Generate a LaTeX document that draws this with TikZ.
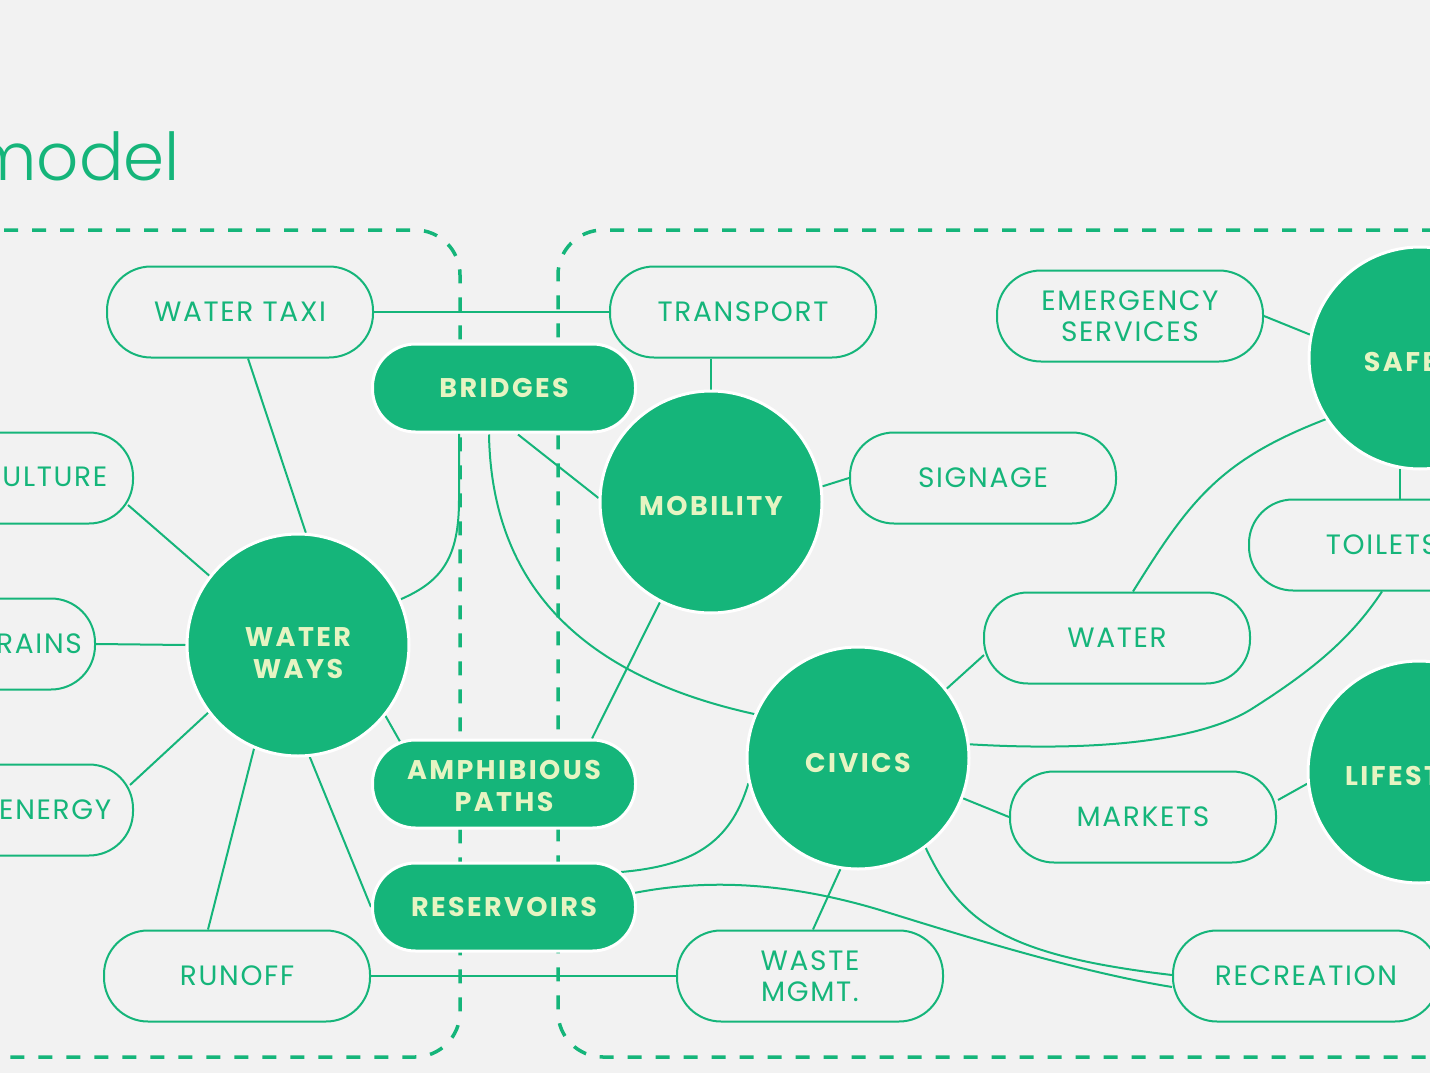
\documentclass[tikz,border=0pt]{standalone}
\usepackage{fontspec}
\setmainfont{Poppins}[LetterSpace=6]
\newfontfamily\hubfont{Poppins}[LetterSpace=9]
\newfontfamily\titlefont{Poppins Light}
\usetikzlibrary{calc}
\pgfdeclarelayer{backdrop}
\pgfdeclarelayer{links}
\pgfsetlayers{backdrop,links,main}
\definecolor{bg}{HTML}{F2F2F2}
\definecolor{grn}{HTML}{15B57A}
\definecolor{pale}{HTML}{E6F4C2}
\tikzset{
  pill/.style={rectangle, rounded corners=44pt, minimum width=266pt, minimum height=91pt, inner sep=0pt,
    draw=grn, line width=2pt, fill=bg, text=grn, align=center, font=\fontsize{28}{31}\selectfont},
  fpill/.style={rectangle, rounded corners=43pt, minimum width=263pt, minimum height=88pt, inner sep=0pt,
    draw=white, line width=3pt, fill=grn, text=pale, align=center, font=\hubfont\bfseries\fontsize{27}{32}\selectfont},
  hub/.style={circle, minimum size=222pt, inner sep=0pt, draw=white, line width=3pt, fill=grn, text=pale,
    align=center, font=\hubfont\bfseries\fontsize{27}{32}\selectfont},
  link/.style={draw=grn, line width=2pt},
  dashbox/.style={draw=grn, line width=3.5pt, dash pattern=on 14pt off 14pt, rounded corners=45pt},
}
\begin{document}
\begin{tikzpicture}[x=1pt,y=-1pt]
\useasboundingbox (0,0) rectangle (1430,1073);
\clip (0,0) rectangle (1430,1073);
\begin{pgfonlayer}{backdrop}
\fill[bg] (0,0) rectangle (1430,1073);
\draw[dashbox] (-80,230) -- (460,230) -- (460,1057) -- (-80,1057);
\draw[dashbox] (1520,230) -- (558,230) -- (558,1057) -- (1520,1057);
\end{pgfonlayer}
\node[anchor=base east, text=grn, font=\titlefont\fontsize{66}{70}\selectfont, inner sep=0pt] (title) at (180,180) {model};
% outline nodes
\node[pill] (wt) at (240,312) {WATER TAXI};
\node[pill] (tr) at (743,312) {TRANSPORT};
\node[pill] (es) at (1130,316) {EMERGENCY\\SERVICES};
\node[pill] (sg) at (983,478) {SIGNAGE};
\node[pill] (cu) at (0,478) {\hspace*{1pt}AQUACULTURE};
\node[pill] (sd) at (-38,644) {\hspace*{22pt}STORM DRAINS};
\node[pill] (en) at (0,810) {HYDRO ENERGY};
\node[pill] (to) at (1382,545) {TOILETS};
\node[pill] (wa) at (1117,638) {WATER};
\node[pill] (mk) at (1143,817) {MARKETS};
\node[pill] (ru) at (237,976) {RUNOFF};
\node[pill] (wm) at (810,976) {WASTE\\MGMT.};
\node[pill] (rc) at (1306,976) {RECREATION};
% filled nodes
\node[hub] (ww) at (298,645) {\rule{0pt}{36pt}WATER\\WAYS};
\node[hub] (mb) at (711,502) {\rule{0pt}{27pt}MOBILITY};
\node[hub] (cv) at (858,758) {\rule{0pt}{29pt}CIVICS};
\node[hub] (sf) at (1420,358) {\rule{0pt}{27pt}SAFETY};
\node[hub] (ls) at (1419,772) {\rule{0pt}{27pt}LIFESTYLE};
\node[fpill] (br) at (504,388) {BRIDGES};
\node[fpill] (am) at (504,784) {\rule{0pt}{23pt}AMPHIBIOUS\\PATHS};
\node[fpill] (rs) at (504,907) {RESERVOIRS};
% connectors
\begin{pgfonlayer}{links}
\draw[link] (wt.east) -- (tr.west);
\draw[link] ($(wt.south)+(8,0)$) -- (ww.86);
\draw[link] (tr.south -| mb.north) -- (mb.north);
\draw[link] ($(br.south)+(14,1)$) -- (mb.178);
\draw[link] ($(br.south)+(-45,0)$) -- (459,500) .. controls (459,560) and (440,582) .. (ww.24);
\draw[link] ($(br.south)+(-15,1)$) .. controls (492,600) and (600,680) .. (cv.157.7);
\draw[link] (mb.243) -- ($(am.north)+(88,0)$);
\draw[link] (mb.8.7) -- (sg.west);
\draw[link] (ww.142.4) -- ($(cu.east)+(-6,27)$);
\draw[link] (ww.west) -- (sd.east);
\draw[link] (ww.217.6) -- ($(en.east)+(-4,-25)$);
\draw[link] (ww.247.7) -- ($(ru.north)+(-29,0)$);
\draw[link] (ww.276) -- (rs.west);
\draw[link] (ww.321) -- ($(am.north)+(-104,3)$);
\draw[link] (ru.east) -- (wm.west);
\draw[link] ($(rs.center)+(117,-35)$) .. controls (690,866) and (730,845) .. (cv.193);
\draw[link] ($(rs.center)+(130,-14)$) .. controls (700,880) and (780,880) .. (880,910) .. controls (970,938) and (1080,972) .. ($(rc.west)+(0,11)$);
\draw[link] (cv.307.6) .. controls (960,920) and (1000,955) .. ($(rc.west)+(0,-1)$);
\draw[link] (cv.38.2) -- ($(wa.west)+(1,17)$);
\draw[link] (cv.7.8) .. controls (1100,752) and (1200,740) .. (1250,710) .. controls (1310,672) and (1350,640) .. (to.south);
\draw[link] (cv.-21.4) -- (mk.west);
\draw[link] (cv.261) -- ($(wm.north)+(3,0)$);
\draw[link] ($(mk.east)+(1,-17)$) -- (ls.186.7);
\draw[link] ($(wa.north)+(16,0)$) .. controls (1190,500) and (1220,460) .. (sf.213.6);
\draw[link] (es.east) -- (sf.168.8);
\draw[link] (sf.260.8) -- (to.north -| sf.260.8);
\end{pgfonlayer}
\end{tikzpicture}
\end{document}
